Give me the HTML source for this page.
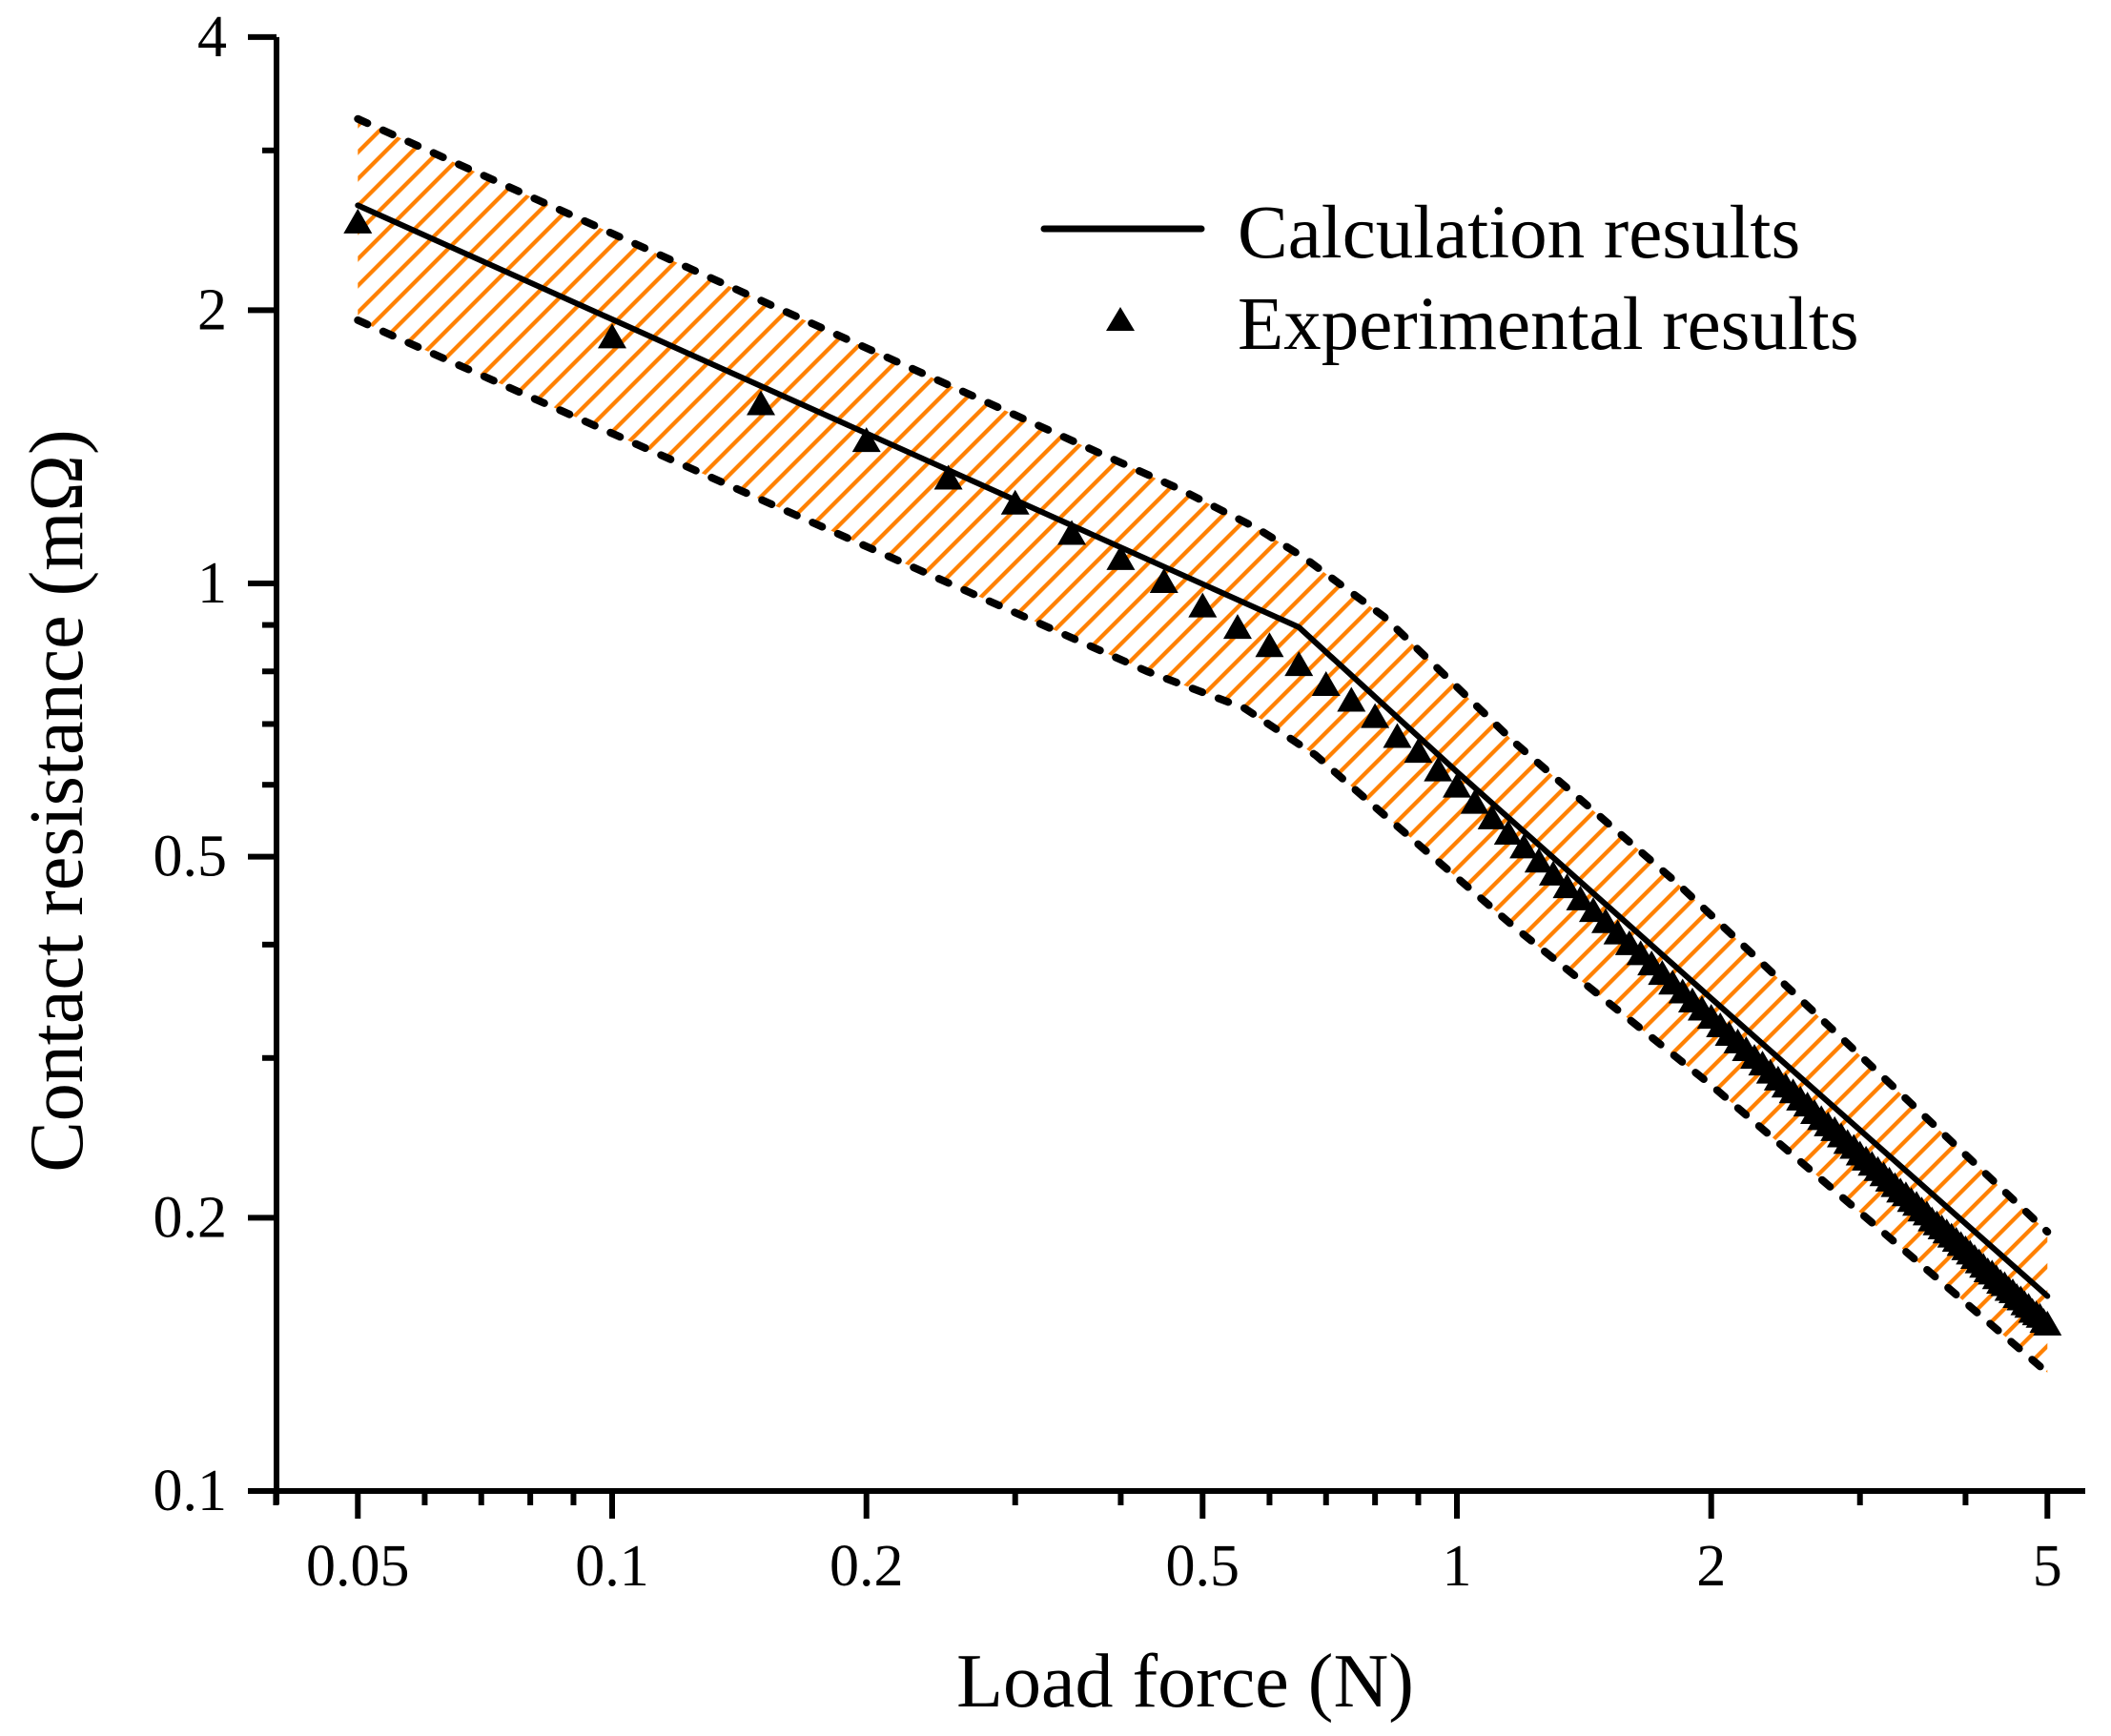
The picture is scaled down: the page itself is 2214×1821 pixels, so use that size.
<!DOCTYPE html>
<html>
<head>
<meta charset="utf-8">
<style>
  html, body { margin: 0; padding: 0; background: #ffffff; }
  svg { display: block; }
  text { font-family: "Liberation Serif", "Times New Roman", serif; fill: #000; }
</style>
</head>
<body>
<svg id="chart" xmlns="http://www.w3.org/2000/svg" width="2214" height="1821" viewBox="0 0 2214 1821">
  <defs>
    <pattern id="hatch" patternUnits="userSpaceOnUse" width="19.8" height="19.8" patternTransform="rotate(45)">
      <line x1="2" y1="0" x2="2" y2="19.8" stroke="#ff8000" stroke-width="4.5"/>
    </pattern>
  </defs>
  <rect width="2214" height="1821" fill="#ffffff"/>
  <g id="band-layer"></g>
  <g id="series-layer"></g>
  <g id="axis-layer"></g>
  <g id="legend">
    <line x1="1095" y1="240" x2="1260" y2="240" stroke="#000" stroke-width="7" stroke-linecap="round"/>
    <text x="1298" y="270" font-size="79">Calculation results</text>
    <path d="M1175,322 L1190,347 L1160,347 Z" fill="#000"/>
    <text x="1298" y="366" font-size="79">Experimental results</text>
  </g>
  <text x="1243" y="1790" font-size="80" text-anchor="middle">Load force (N)</text>
  <text transform="translate(86,840) rotate(-90)" x="0" y="0" font-size="80" text-anchor="middle">Contact resistance (mΩ)</text>
</svg>
<script>
// ---- data ----
const calcX = [0.05, 0.65, 1, 2, 5];
const calcY = [2.61, 0.895, 0.62, 0.349, 0.164];

const upperX = [0.05, 0.47, 0.58, 0.66, 0.82, 1.17, 1.82, 5];
const upperY = [3.25, 1.27, 1.15, 1.067, 0.919, 0.668, 0.468, 0.193];

const lowerX = [0.05, 0.43, 0.56, 0.68, 0.82, 1.17, 2.0, 5];
const lowerY = [1.95, 0.80, 0.729, 0.647, 0.556, 0.418, 0.280, 0.135];

const expX = [0.05,0.1,0.15,0.2,0.25,0.3,0.35,0.4,0.45,0.5,0.55,0.6,0.65,0.7,0.75,0.8,0.85,0.9,0.95,1.0,
  1.05,1.1,1.15,1.2,1.25,1.3,1.35,1.4,1.45,1.5,1.55,1.6,1.65,1.7,1.75,1.8,1.85,1.9,1.95,2.0,
  2.05,2.1,2.15,2.2,2.25,2.3,2.35,2.4,2.45,2.5,2.55,2.6,2.65,2.7,2.75,2.8,2.85,2.9,2.95,3.0,
  3.05,3.1,3.15,3.2,3.25,3.3,3.35,3.4,3.45,3.5,3.55,3.6,3.65,3.7,3.75,3.8,3.85,3.9,3.95,4.0,
  4.05,4.1,4.15,4.2,4.25,4.3,4.35,4.4,4.45,4.5,4.55,4.6,4.65,4.7,4.75,4.8,4.85,4.9,4.95,5.0];
const expY = [2.49,1.86,1.57,1.43,1.30,1.22,1.13,1.06,1.00,0.94,0.89,0.85,0.81,0.77,0.74,0.71,0.675,0.65,0.62,0.595,
  0.571,0.549,0.528,0.510,0.492,0.476,0.461,0.447,0.434,0.422,0.410,0.399,0.389,0.379,0.370,0.361,0.353,0.345,0.338,0.331,
  0.324,0.317,0.311,0.305,0.299,0.294,0.288,0.283,0.278,0.274,0.269,0.265,0.260,0.256,0.252,0.249,0.245,0.241,0.238,0.234,
  0.231,0.228,0.225,0.222,0.219,0.216,0.213,0.211,0.208,0.206,0.203,0.201,0.198,0.196,0.194,0.192,0.190,0.188,0.186,0.184,
  0.182,0.180,0.178,0.176,0.174,0.173,0.171,0.169,0.168,0.166,0.165,0.163,0.162,0.160,0.159,0.157,0.156,0.155,0.153,0.152];

const xMajorTicks = [0.05, 0.1, 0.2, 0.5, 1, 2, 5];
const xMajorLabels = ["0.05", "0.1", "0.2", "0.5", "1", "2", "5"];
const xMinorTicks = [0.04, 0.06, 0.07, 0.08, 0.09, 0.3, 0.4, 0.6, 0.7, 0.8, 0.9, 3, 4];
const yMajorTicks = [4, 2, 1, 0.5, 0.2, 0.1];
const yMajorLabels = ["4", "2", "1", "0.5", "0.2", "0.1"];
const yMinorTicks = [3, 0.9, 0.8, 0.7, 0.6, 0.4, 0.3];

// ---- scales ----
const X_ORIGIN = 1528, X_DEC = 886;
const Y_ORIGIN = 612, Y_DEC = 952;
function xs(v) { return X_ORIGIN + X_DEC * Math.log10(v); }
function ys(v) { return Y_ORIGIN - Y_DEC * Math.log10(v); }

const NS = "http://www.w3.org/2000/svg";
function mk(tag, attrs, parent) {
  const el = document.createElementNS(NS, tag);
  for (const k in attrs) el.setAttribute(k, attrs[k]);
  parent.appendChild(el);
  return el;
}
function pts(xa, ya) { return xa.map((x, i) => xs(x).toFixed(1) + "," + ys(ya[i]).toFixed(1)); }

// ---- band ----
const band = document.getElementById("band-layer");
const up = pts(upperX, upperY), lo = pts(lowerX, lowerY).reverse();
const fill = mk("path", { d: "M" + up.join(" L") + " L" + lo.join(" L") + " Z", fill: "url(#hatch)", stroke: "none" }, band);


const upLine = mk("polyline", { points: up.join(" "), fill: "none", stroke: "#000", "stroke-width": 8, "stroke-dasharray": "11 18", "stroke-linecap": "round" }, band);


const loLine = mk("polyline", { points: pts(lowerX, lowerY).join(" "), fill: "none", stroke: "#000", "stroke-width": 8, "stroke-dasharray": "11 18", "stroke-linecap": "round" }, band);



// ---- series ----
const ser = document.getElementById("series-layer");
const calc = mk("polyline", { points: pts(calcX, calcY).join(" "), fill: "none", stroke: "#000", "stroke-width": 6, "stroke-linejoin": "round", "stroke-linecap": "round" }, ser);


expX.forEach((x, i) => {
  const cx = xs(x), cy = ys(expY[i]);
  const t = mk("path", { d: `M${cx},${cy - 16} L${cx + 15},${cy + 10} L${cx - 15},${cy + 10} Z`, fill: "#000" }, ser);
  
  
});

// ---- axes ----
const ax = document.getElementById("axis-layer");
const AX_X = 290, AX_Y = 1564;
const yAxis = mk("line", { x1: AX_X, y1: ys(4), x2: AX_X, y2: AX_Y + 14, stroke: "#000", "stroke-width": 6 }, ax);


const xAxis = mk("line", { x1: AX_X - 3, y1: AX_Y, x2: 2187, y2: AX_Y, stroke: "#000", "stroke-width": 6 }, ax);



xMajorTicks.forEach((v, i) => {
  const x = xs(v);
  const t = mk("line", { x1: x, y1: AX_Y, x2: x, y2: AX_Y + 29, stroke: "#000", "stroke-width": 6 }, ax);
  
  
  const l = mk("text", { x: x, y: 1663, "font-size": 62, "text-anchor": "middle" }, ax);
  l.textContent = xMajorLabels[i];
  
  
});
xMinorTicks.forEach(v => {
  const x = xs(v);
  const t = mk("line", { x1: x, y1: AX_Y, x2: x, y2: AX_Y + 15, stroke: "#000", "stroke-width": 6 }, ax);
  
  
});
yMajorTicks.forEach((v, i) => {
  const y = ys(v);
  const t = mk("line", { x1: AX_X - 30, y1: y, x2: AX_X, y2: y, stroke: "#000", "stroke-width": 6 }, ax);
  
  
  const l = mk("text", { x: 238, y: y + 20, "font-size": 62, "text-anchor": "end" }, ax);
  l.textContent = yMajorLabels[i];
  
  
});
yMinorTicks.forEach(v => {
  const y = ys(v);
  const t = mk("line", { x1: AX_X - 15, y1: y, x2: AX_X, y2: y, stroke: "#000", "stroke-width": 6 }, ax);
  
  
});
</script>
</body>
</html>
